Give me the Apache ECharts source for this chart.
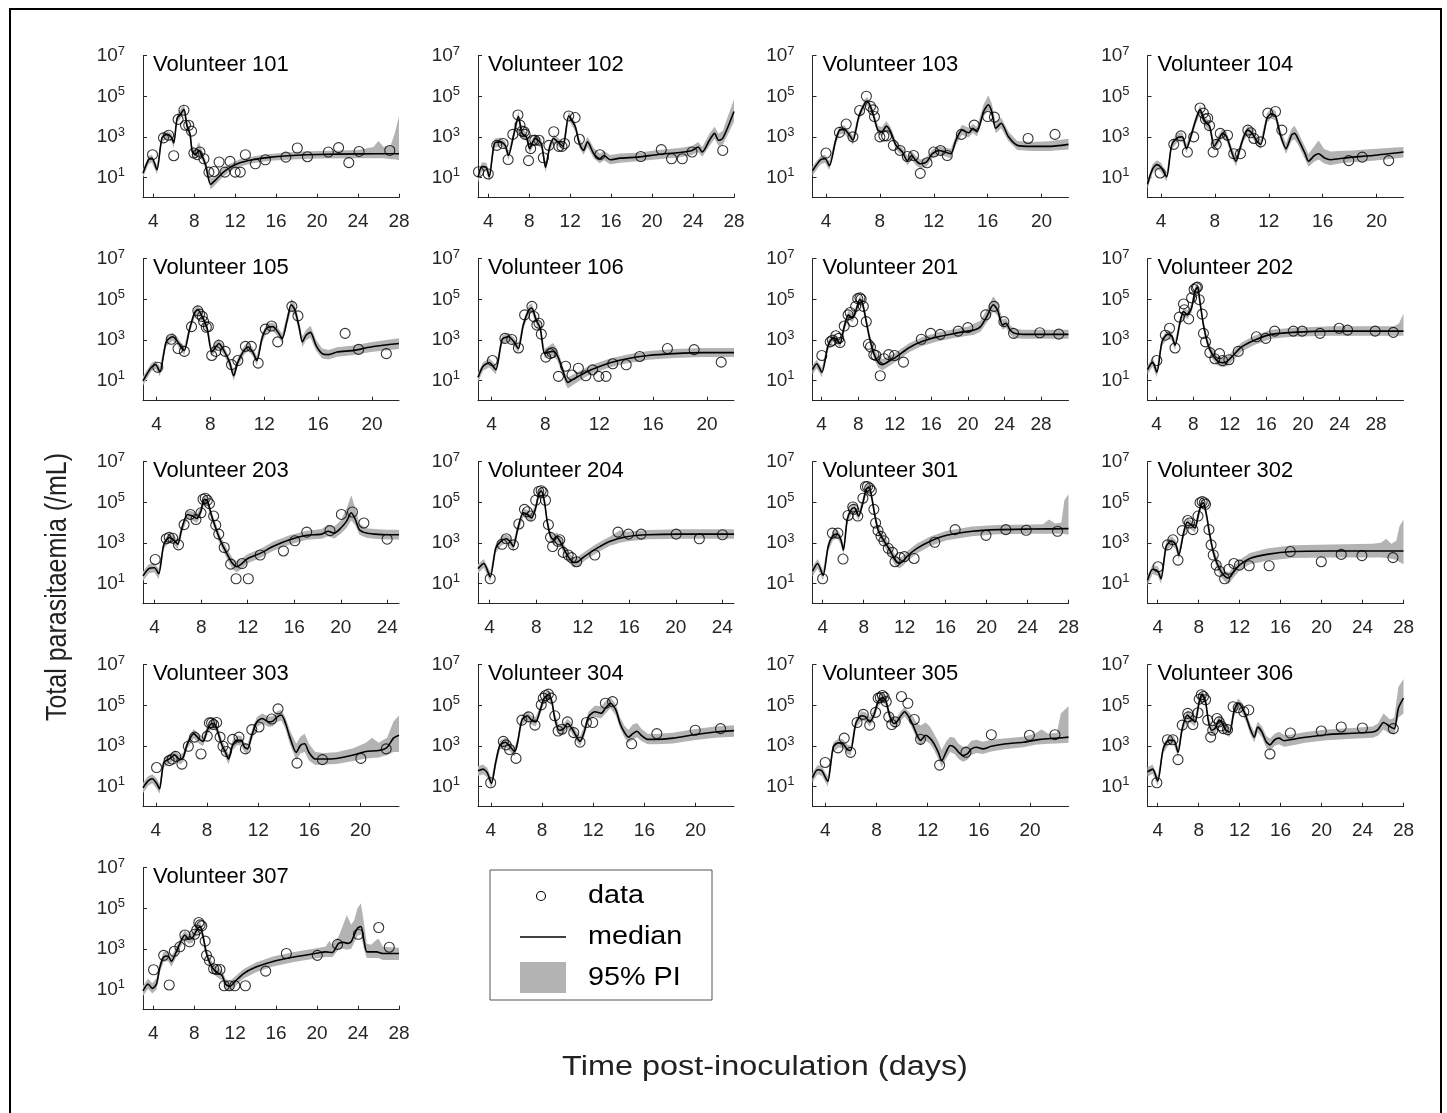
<!DOCTYPE html>
<html><head><meta charset="utf-8">
<script src="https://cdn.jsdelivr.net/npm/echarts@6/dist/echarts.min.js"></script>
<style>html,body{margin:0;padding:0;background:#fff}#chart{width:1447px;height:1113px}</style>
</head><body><div id="chart"></div>
<script>
// All y values are log10(total parasitaemia per mL); x values are days post-inoculation.
const volunteers = ['101','102','103','104','105','106','201','202','203','204','301','302','303','304','305','306','307'];
const xMaxDays   = [28,28,22,22,22,22,31,31,25,25,28,28,23,23,23,28,28];
const xTicks28 = [4,8,12,16,20,24,28];
const xTicks20 = [4,8,12,16,20];
const xTicks24 = [4,8,12,16,20,24];
const yTickExponents = [1,3,5,7];

// ---- Volunteer 101
const data101 = [[3.93,2.12],[5.0,2.95],[5.5,3.08],[6.0,2.07],[6.43,3.86],[7.0,4.31],[7.15,3.57],[7.47,3.57],[7.74,3.28],[7.97,2.2],[8.3,2.12],[8.56,2.25],[8.95,1.92],[9.44,1.26],[9.93,1.29],[10.43,1.76],[11.0,1.26],[11.5,1.79],[12.0,1.26],[12.5,1.26],[13.0,2.12],[13.97,1.67],[14.95,1.87],[16.95,2.0],[18.07,2.45],[19.06,2.02],[21.1,2.25],[22.1,2.47],[23.1,1.73],[24.1,2.28],[27.1,2.33]];
const median101 = [[3,1.21],[3.54,1.87],[3.87,1.96],[4.36,1.38],[4.85,2.95],[5.35,3.12],[5.77,2.98],[6.0,2.7],[6.33,3.91],[6.66,4.11],[7.0,4.36],[7.3,3.53],[7.6,3.12],[7.8,2.29],[8.13,2.12],[8.46,2.32],[8.79,2.04],[9.11,1.62],[9.6,0.66],[10.1,0.88],[10.75,1.21],[11.4,1.46],[12.4,1.71],[13.7,1.87],[15.35,1.99],[18,2.09],[20,2.13],[24,2.16],[28,2.17]];
const band101 = [[3,1.0,1.4],[3.54,1.65,2.05],[3.87,1.75,2.12],[4.36,1.15,1.6],[4.85,2.75,3.15],[5.35,2.92,3.3],[5.77,2.78,3.18],[6.0,2.45,2.9],[6.33,3.7,4.1],[6.66,3.9,4.35],[7.0,4.12,4.62],[7.3,3.3,3.75],[7.6,2.9,3.35],[7.8,2.05,2.55],[8.13,1.9,2.4],[8.46,2.1,2.75],[8.79,1.82,2.3],[9.11,1.4,1.85],[9.6,0.4,0.95],[10.1,0.65,1.1],[10.75,1.0,1.42],[11.4,1.27,1.65],[12.4,1.53,1.88],[13.7,1.7,2.03],[15.35,1.82,2.15],[18,1.9,2.27],[20,1.93,2.3],[24,1.95,2.35],[25.5,1.95,2.5],[26,1.95,2.8],[26.5,1.95,2.5],[27.2,1.9,2.6],[27.6,1.9,3.2],[28,1.85,4.0]];

// ---- Volunteer 102
const data102 = [[3.05,1.28],[4.0,1.17],[4.83,2.58],[5.45,2.67],[5.94,1.88],[6.4,3.12],[6.9,4.08],[7.1,3.58],[7.3,3.28],[7.5,3.25],[7.6,3.12],[7.93,1.83],[8.14,2.42],[8.34,2.83],[8.55,2.83],[8.96,2.83],[9.38,1.97],[9.92,2.58],[10.4,3.25],[10.9,2.53],[11.2,2.53],[11.45,2.67],[11.86,4.03],[12.48,3.95],[12.9,2.88],[14.9,2.12],[18.9,2.03],[20.9,2.37],[21.9,1.92],[22.95,1.92],[23.9,2.25],[26.9,2.33]];
const median102 = [[3,1.0],[3.38,1.53],[3.8,1.5],[4.1,1.03],[4.6,2.67],[5.2,2.75],[5.65,2.58],[5.98,2.08],[6.48,3.08],[6.94,4.0],[7.3,3.17],[7.72,3.0],[8.05,2.42],[8.55,2.92],[9.17,2.67],[9.6,1.5],[10.0,2.5],[10.4,2.92],[10.8,2.75],[11.3,2.53],[11.86,4.03],[12.5,3.5],[12.9,2.67],[13.3,2.33],[13.7,2.75],[14.3,2.17],[14.9,1.92],[15.3,2.08],[15.9,1.87],[16.9,1.95],[18.6,2.0],[20.6,2.13],[22.7,2.23],[23.9,2.33],[24.5,2.5],[24.9,2.25],[25.6,2.83],[26.1,3.17],[26.5,2.83],[26.9,2.92],[28,4.25]];
const band102 = [[3,0.75,1.25],[3.38,1.3,1.75],[3.8,1.3,1.72],[4.1,0.8,1.3],[4.6,2.45,2.9],[5.2,2.55,2.97],[5.65,2.38,2.8],[5.98,1.85,2.32],[6.48,2.88,3.3],[6.94,3.78,4.25],[7.3,2.95,3.4],[7.72,2.8,3.22],[8.05,2.2,2.65],[8.55,2.7,3.15],[9.17,2.45,2.9],[9.6,1.25,1.75],[10.0,2.3,2.7],[10.4,2.72,3.12],[10.8,2.55,2.95],[11.3,2.33,2.75],[11.86,3.82,4.25],[12.5,3.28,3.72],[12.9,2.45,2.9],[13.3,2.12,2.6],[13.7,2.5,3.0],[14.3,1.95,2.45],[14.9,1.7,2.18],[15.3,1.85,2.3],[15.9,1.65,2.1],[16.9,1.72,2.18],[18.6,1.8,2.22],[20.6,1.9,2.35],[22.7,2.0,2.45],[23.9,2.1,2.55],[24.5,2.25,2.75],[24.9,2.02,2.5],[25.6,2.55,3.15],[26.1,2.9,3.5],[26.5,2.55,3.15],[26.9,2.6,3.3],[28,3.75,4.85]];

// ---- Volunteer 103
const data103 = [[4.0,2.2],[5.0,3.22],[5.5,3.63],[6.0,3.0],[6.5,4.3],[7.0,5.0],[7.3,4.5],[7.5,4.33],[7.6,4.0],[8.0,3.0],[8.3,3.05],[8.5,3.05],[9.0,2.58],[9.5,2.33],[10.04,2.03],[10.5,2.08],[11.0,1.2],[11.5,1.72],[12.0,2.25],[12.5,2.33],[13.0,2.08],[14.05,3.12],[15.0,3.58],[16.0,4.0],[16.5,3.97],[19.0,2.92],[21.0,3.12]];
const median103 = [[3,1.33],[3.6,1.87],[3.94,1.92],[4.25,1.58],[4.72,2.83],[5.0,3.33],[5.35,3.37],[5.75,3.08],[6.0,2.83],[6.44,4.0],[6.9,4.67],[7.07,4.75],[7.44,4.25],[7.85,3.33],[8.16,3.25],[8.48,3.53],[8.8,3.25],[9.2,2.58],[9.67,2.25],[10.04,1.83],[10.36,2.08],[10.67,1.83],[11.0,1.67],[11.45,1.75],[11.9,2.17],[12.4,2.33],[12.85,2.25],[13.27,2.17],[13.64,2.83],[14.1,3.33],[14.6,3.2],[14.9,3.42],[15.2,3.25],[15.7,4.25],[16.05,4.58],[16.3,4.25],[16.6,3.42],[17.0,3.67],[17.55,3.0],[18.2,2.58],[19.3,2.53],[20.5,2.53],[22,2.63]];
const band103 = [[3,1.1,1.55],[3.6,1.65,2.05],[3.94,1.72,2.12],[4.25,1.35,1.8],[4.72,2.6,3.05],[5.0,3.12,3.52],[5.35,3.17,3.57],[5.75,2.88,3.28],[6.0,2.6,3.05],[6.44,3.8,4.2],[6.9,4.45,4.88],[7.07,4.53,4.97],[7.44,4.03,4.47],[7.85,3.12,3.55],[8.16,3.05,3.48],[8.48,3.3,3.78],[8.8,3.03,3.48],[9.2,2.37,2.8],[9.67,2.03,2.47],[10.04,1.6,2.05],[10.36,1.87,2.3],[10.67,1.6,2.05],[11.0,1.45,1.88],[11.45,1.53,1.97],[11.9,1.95,2.38],[12.4,2.12,2.55],[12.85,2.03,2.47],[13.27,1.95,2.4],[13.64,2.6,3.05],[14.1,3.1,3.6],[14.6,2.97,3.45],[14.9,3.2,3.65],[15.2,3.02,3.5],[15.7,4.0,4.6],[16.05,4.3,5.05],[16.3,3.98,4.65],[16.6,3.18,3.72],[17.0,3.42,3.95],[17.55,2.78,3.25],[18.2,2.35,2.8],[19.3,2.3,2.75],[20.5,2.3,2.78],[22,2.38,2.9]];

// ---- Volunteer 104
const data104 = [[3.94,1.22],[4.95,2.63],[5.48,3.05],[5.96,2.25],[6.43,3.0],[6.9,4.42],[7.15,4.17],[7.3,3.88],[7.47,3.92],[7.6,3.55],[7.87,2.25],[8.1,2.63],[8.4,3.17],[8.94,3.08],[9.4,2.17],[9.9,2.17],[10.45,3.33],[10.67,3.2],[10.9,2.92],[11.4,2.75],[11.93,4.17],[12.5,4.25],[12.97,3.33],[17.94,1.83],[18.94,2.0],[20.9,1.83]];
const median104 = [[3,0.67],[3.38,1.42],[3.69,1.63],[4.0,1.5],[4.42,1.03],[4.79,2.58],[5.26,2.97],[5.58,3.0],[5.89,2.42],[6.21,3.0],[6.58,3.83],[6.9,4.33],[7.21,3.83],[7.62,3.5],[7.94,2.53],[8.25,2.83],[8.57,3.17],[8.88,3.0],[9.29,2.17],[9.57,1.8],[9.82,2.33],[10.14,3.0],[10.45,3.33],[10.77,3.17],[11.08,2.83],[11.4,2.63],[11.87,3.92],[12.18,4.13],[12.5,4.03],[12.87,3.08],[13.28,2.42],[13.69,3.08],[13.91,3.17],[14.23,2.83],[14.7,2.17],[14.95,1.8],[15.39,2.08],[15.7,2.17],[16.11,1.97],[16.58,1.87],[17.21,1.92],[18.16,2.0],[19.73,2.08],[22,2.25]];
const band104 = [[3,0.45,0.9],[3.38,1.2,1.65],[3.69,1.42,1.85],[4.0,1.28,1.72],[4.42,0.8,1.25],[4.79,2.37,2.8],[5.26,2.77,3.2],[5.58,2.8,3.22],[5.89,2.2,2.65],[6.21,2.8,3.22],[6.58,3.62,4.05],[6.9,4.1,4.57],[7.21,3.6,4.05],[7.62,3.28,3.72],[7.94,2.3,2.78],[8.25,2.62,3.05],[8.57,2.95,3.4],[8.88,2.78,3.22],[9.29,1.95,2.42],[9.57,1.55,2.05],[9.82,2.1,2.55],[10.14,2.78,3.22],[10.45,3.12,3.55],[10.77,2.95,3.4],[11.08,2.6,3.05],[11.4,2.4,2.87],[11.87,3.7,4.15],[12.18,3.9,4.42],[12.5,3.8,4.28],[12.87,2.85,3.32],[13.28,2.15,2.68],[13.69,2.8,3.4],[13.91,2.88,3.55],[14.23,2.55,3.15],[14.7,1.88,2.5],[14.95,1.52,2.15],[15.39,1.78,2.55],[15.7,1.88,2.82],[16.11,1.68,2.4],[16.58,1.6,2.28],[17.21,1.68,2.3],[18.16,1.75,2.33],[19.73,1.82,2.4],[22,1.98,2.5]];

// ---- Volunteer 105
const data105 = [[4.1,1.65],[5.1,3.03],[5.6,2.57],[6.07,2.43],[6.6,3.65],[7.07,4.43],[7.2,4.27],[7.4,4.15],[7.5,3.9],[7.7,3.62],[7.85,3.65],[8.1,2.23],[8.4,2.43],[8.63,2.73],[9.1,2.43],[9.57,1.78],[10.04,1.98],[10.6,2.68],[11.04,2.68],[11.55,1.85],[12.08,3.53],[12.55,3.68],[13.0,2.9],[14.05,4.65],[14.5,4.18],[18.0,3.32],[19.0,2.53],[21.06,2.32]];
const median105 = [[3,0.98],[3.62,1.65],[3.94,1.77],[4.25,1.43],[4.72,2.9],[5.19,3.15],[5.5,2.98],[5.82,2.65],[6.07,2.48],[6.44,3.48],[6.82,4.32],[7.07,4.48],[7.44,4.07],[7.76,3.57],[8.1,2.4],[8.4,2.65],[8.63,2.82],[9.0,2.48],[9.42,1.9],[9.73,1.23],[10.04,1.9],[10.5,2.48],[10.8,2.65],[11.14,2.4],[11.45,1.98],[11.83,3.07],[12.17,3.57],[12.64,3.65],[13.0,3.4],[13.33,3.07],[13.7,3.98],[14.0,4.73],[14.27,4.48],[14.58,3.65],[14.83,2.9],[15.1,3.23],[15.43,3.37],[15.84,2.73],[16.3,2.32],[16.77,2.27],[17.4,2.4],[18.65,2.48],[19.9,2.65],[22,2.82]];
const band105 = [[3,0.75,1.2],[3.62,1.45,1.85],[3.94,1.57,1.97],[4.25,1.2,1.68],[4.72,2.68,3.1],[5.19,2.95,3.35],[5.5,2.78,3.18],[5.82,2.45,2.87],[6.07,2.27,2.7],[6.44,3.27,3.7],[6.82,4.1,4.53],[7.07,4.27,4.7],[7.44,3.85,4.3],[7.76,3.35,3.8],[8.1,2.18,2.62],[8.4,2.45,2.87],[8.63,2.6,3.05],[9.0,2.27,2.7],[9.42,1.68,2.12],[9.73,0.98,1.48],[10.04,1.68,2.12],[10.5,2.27,2.7],[10.8,2.45,2.87],[11.14,2.2,2.62],[11.45,1.75,2.2],[11.83,2.85,3.3],[12.17,3.35,3.78],[12.64,3.43,3.87],[13.0,3.18,3.62],[13.33,2.85,3.3],[13.7,3.75,4.25],[14.0,4.45,5.02],[14.27,4.2,4.78],[14.58,3.4,3.92],[14.83,2.65,3.17],[15.1,2.98,3.5],[15.43,3.1,3.7],[15.84,2.48,3.0],[16.3,2.08,2.57],[16.77,2.03,2.5],[17.4,2.17,2.63],[18.65,2.25,2.72],[19.9,2.4,2.88],[22,2.55,3.08]];

// ---- Volunteer 106
const data106 = [[4.07,1.98],[5.0,3.07],[5.5,3.02],[6.0,2.6],[6.46,4.23],[7.0,4.65],[7.15,4.15],[7.37,3.73],[7.53,3.82],[7.7,3.28],[8.03,2.15],[8.35,2.32],[8.5,2.37],[8.97,1.2],[9.5,1.7],[9.98,1.27],[10.45,1.6],[11.0,1.23],[11.5,1.52],[11.96,1.2],[12.5,1.2],[13.0,1.82],[14.0,1.77],[15.0,2.18],[17.06,2.57],[19.04,2.52],[21.05,1.9]];
const median106 = [[3,1.15],[3.38,1.7],[3.85,1.87],[4.32,1.53],[4.79,3.02],[5.26,3.15],[5.67,2.9],[5.99,2.57],[6.36,3.73],[6.77,4.48],[6.99,4.57],[7.31,3.98],[7.62,3.57],[7.94,2.32],[8.25,2.4],[8.57,2.43],[8.88,2.23],[9.19,1.7],[9.51,1.07],[9.67,0.9],[9.99,1.03],[10.45,1.2],[11.08,1.43],[11.87,1.65],[12.81,1.87],[14.07,2.07],[15.64,2.23],[17.53,2.32],[19.73,2.37],[22,2.37]];
const band106 = [[3,0.92,1.38],[3.38,1.48,1.9],[3.85,1.65,2.08],[4.32,1.3,1.77],[4.79,2.8,3.22],[5.26,2.95,3.35],[5.67,2.68,3.1],[5.99,2.35,2.8],[6.36,3.52,3.95],[6.77,4.27,4.7],[6.99,4.35,4.8],[7.31,3.77,4.2],[7.62,3.35,3.8],[7.94,2.1,2.55],[8.25,2.18,2.7],[8.57,2.2,2.85],[8.88,2.0,2.55],[9.19,1.45,1.95],[9.51,0.8,1.3],[9.67,0.6,1.15],[9.99,0.75,1.27],[10.45,0.95,1.43],[11.08,1.2,1.65],[11.87,1.43,1.87],[12.81,1.65,2.08],[14.07,1.85,2.28],[15.64,2.02,2.45],[17.53,2.1,2.55],[19.73,2.15,2.6],[22,2.15,2.6]];

// ---- Volunteer 201
const data201 = [[4.02,2.23],[4.94,2.9],[5.18,2.98],[5.55,3.2],[5.87,3.07],[6.01,2.87],[6.47,3.68],[6.89,4.23],[7.12,4.35],[7.4,3.9],[7.72,4.65],[7.95,5.03],[8.19,5.07],[8.32,5.0],[8.56,4.65],[8.88,3.9],[9.11,2.78],[9.34,2.65],[9.71,2.27],[9.94,2.23],[10.41,1.23],[10.82,2.07],[11.33,2.27],[11.98,2.23],[12.95,1.9],[14.9,3.03],[15.92,3.32],[16.98,3.27],[18.93,3.43],[19.99,3.6],[21.94,4.23],[22.86,4.65],[23.93,3.9],[24.99,3.32],[27.86,3.35],[29.94,3.28]];
const median201 = [[3,1.53],[3.46,1.82],[4.02,1.4],[4.71,2.73],[5.27,3.1],[5.64,3.02],[6.01,2.82],[6.47,3.65],[6.94,4.23],[7.35,4.07],[7.72,4.4],[8.19,5.0],[8.51,4.73],[8.88,3.9],[9.25,3.07],[9.71,2.32],[10.18,1.9],[10.64,1.77],[11.19,1.9],[12.12,2.15],[13.51,2.6],[14.9,2.9],[16.75,3.15],[18.6,3.32],[19.99,3.43],[20.69,3.48],[21.38,3.65],[22.07,4.15],[22.77,4.73],[23.23,4.48],[23.79,3.73],[24.16,3.82],[24.62,3.48],[25.08,3.32],[26.0,3.27],[31,3.27]];
const band201 = [[3,1.3,1.75],[3.46,1.6,2.02],[4.02,1.15,1.62],[4.71,2.5,2.95],[5.27,2.9,3.3],[5.64,2.82,3.22],[6.01,2.6,3.05],[6.47,3.45,3.88],[6.94,4.02,4.45],[7.35,3.85,4.3],[7.72,4.18,4.62],[8.19,4.78,5.2],[8.51,4.5,4.95],[8.88,3.67,4.15],[9.25,2.83,3.32],[9.71,2.07,2.6],[10.18,1.62,2.2],[10.64,1.5,2.05],[11.19,1.65,2.15],[12.12,1.92,2.38],[13.51,2.38,2.82],[14.9,2.68,3.12],[16.75,2.93,3.37],[18.6,3.1,3.53],[19.99,3.2,3.65],[20.69,3.25,3.8],[21.38,3.4,3.95],[22.07,3.85,4.5],[22.77,4.4,5.15],[23.23,4.2,4.85],[23.79,3.5,4.0],[24.16,3.6,4.05],[24.62,3.25,3.72],[25.08,3.08,3.55],[26.0,3.05,3.5],[31,3.05,3.5]];

// ---- Volunteer 202
const data202 = [[4.02,1.98],[4.95,3.23],[5.41,3.57],[6.01,2.6],[6.48,4.12],[6.94,4.77],[7.03,4.48],[7.5,4.03],[7.82,5.07],[8.1,5.48],[8.33,5.57],[8.47,5.6],[8.66,4.98],[8.98,4.27],[9.12,3.32],[9.35,2.9],[9.82,2.37],[10.37,2.07],[10.88,2.32],[11.21,1.98],[11.9,2.02],[12.92,2.43],[14.91,3.15],[15.93,3.07],[16.91,3.43],[18.95,3.43],[19.92,3.43],[21.87,3.32],[23.96,3.57],[24.88,3.48],[27.9,3.43],[29.89,3.37]];
const median202 = [[3,1.53],[3.56,1.9],[4.02,1.4],[4.58,2.9],[5.18,3.27],[5.64,3.2],[6.01,2.73],[6.57,3.9],[6.94,4.4],[7.36,4.23],[7.82,4.57],[8.19,5.4],[8.47,5.6],[8.75,4.82],[9.12,3.73],[9.58,2.82],[10.05,2.32],[10.6,1.98],[11.21,1.87],[11.67,1.93],[12.36,2.23],[13.29,2.65],[14.68,2.98],[16.54,3.27],[18.86,3.37],[23.03,3.43],[29.98,3.43],[31,3.43]];
const band202 = [[3,1.3,1.75],[3.56,1.68,2.1],[4.02,1.15,1.62],[4.58,2.68,3.12],[5.18,3.05,3.47],[5.64,2.98,3.4],[6.01,2.5,2.95],[6.57,3.68,4.1],[6.94,4.18,4.6],[7.36,4.02,4.45],[7.82,4.35,4.78],[8.19,5.18,5.6],[8.47,5.38,5.82],[8.75,4.6,5.05],[9.12,3.5,3.97],[9.58,2.58,3.05],[10.05,2.08,2.55],[10.6,1.75,2.22],[11.21,1.65,2.1],[11.67,1.7,2.15],[12.36,2.0,2.45],[13.29,2.42,2.87],[14.68,2.75,3.2],[16.54,3.05,3.5],[18.86,3.15,3.6],[23.03,3.2,3.67],[29.98,3.2,3.67],[30.5,3.2,3.8],[31,3.2,4.3]];

// ---- Volunteer 203
const data203 = [[4.05,2.18],[5.0,3.2],[5.25,3.27],[5.55,3.23],[6.05,2.9],[6.53,3.9],[7.07,4.4],[7.55,4.15],[7.98,4.48],[8.16,5.15],[8.35,5.2],[8.53,5.1],[8.71,4.93],[9.07,4.32],[9.25,3.87],[9.51,3.43],[9.98,2.77],[10.53,1.95],[11.0,1.23],[11.51,1.98],[12.05,1.23],[13.07,2.4],[15.07,2.6],[16.05,3.1],[17.07,3.53],[19.07,3.6],[20.05,4.4],[21.0,4.52],[21.98,3.98],[23.98,3.18]];
const median203 = [[3,1.37],[3.5,1.73],[3.98,1.77],[4.35,1.48],[4.78,2.9],[5.25,3.27],[5.62,3.15],[5.98,2.93],[6.35,3.73],[6.82,4.4],[7.25,4.32],[7.62,4.2],[7.98,4.57],[8.27,5.15],[8.53,5.07],[8.9,4.32],[9.25,3.73],[9.62,3.15],[9.98,2.73],[10.35,2.32],[10.7,1.98],[11.07,1.82],[11.44,1.95],[12.0,2.23],[13.07,2.48],[14.16,2.82],[15.6,3.15],[17.07,3.37],[18.35,3.43],[18.9,3.57],[19.44,3.48],[20.0,3.73],[20.5,4.07],[20.9,4.48],[21.25,4.15],[21.6,3.65],[22.2,3.48],[22.9,3.43],[24.0,3.4],[25,3.4]];
const band203 = [[3,1.12,1.6],[3.5,1.5,1.95],[3.98,1.55,2.0],[4.35,1.22,1.72],[4.78,2.68,3.12],[5.25,3.05,3.48],[5.62,2.93,3.37],[5.98,2.7,3.15],[6.35,3.5,3.95],[6.82,4.18,4.62],[7.25,4.1,4.55],[7.62,3.98,4.42],[7.98,4.35,4.8],[8.27,4.92,5.37],[8.53,4.85,5.3],[8.9,4.1,4.55],[9.25,3.5,3.97],[9.62,2.9,3.4],[9.98,2.48,2.98],[10.35,2.05,2.58],[10.7,1.7,2.25],[11.07,1.55,2.08],[11.44,1.7,2.2],[12.0,2.0,2.45],[13.07,2.25,2.7],[14.16,2.6,3.05],[15.6,2.92,3.38],[17.07,3.15,3.6],[18.35,3.2,3.68],[18.9,3.33,3.9],[19.44,3.22,3.8],[20.0,3.45,4.1],[20.5,3.75,4.7],[20.9,4.1,5.35],[21.25,3.85,4.7],[21.6,3.4,3.95],[22.2,3.25,3.72],[22.9,3.2,3.68],[24.0,3.17,3.65],[25,3.17,3.65]];

// ---- Volunteer 204
const data204 = [[4.05,1.23],[5.07,2.93],[5.43,3.2],[6.04,2.9],[6.51,3.93],[6.99,4.65],[7.24,4.53],[7.53,4.32],[7.96,5.1],[8.22,5.53],[8.43,5.57],[8.58,5.48],[8.8,5.1],[9.05,3.9],[9.23,3.27],[9.41,2.82],[9.88,3.07],[10.03,3.15],[10.32,2.53],[10.75,2.4],[11.04,2.27],[11.48,2.07],[13.04,2.4],[15.03,3.53],[15.93,3.43],[17.02,3.43],[20.03,3.43],[22.02,3.2],[24.01,3.4]];
const median204 = [[3,1.73],[3.5,1.98],[4.05,1.32],[4.52,2.73],[4.96,3.07],[5.43,3.2],[5.8,3.03],[6.04,2.82],[6.4,3.65],[6.88,4.48],[7.24,4.4],[7.6,4.23],[7.96,4.73],[8.22,5.4],[8.43,5.57],[8.7,5.07],[8.94,4.07],[9.23,3.32],[9.52,3.15],[9.77,3.27],[10.14,2.98],[10.5,2.57],[10.86,2.23],[11.22,2.03],[11.59,2.07],[12.13,2.32],[13.2,2.73],[14.3,3.07],[15.75,3.3],[17.57,3.4],[20.47,3.43],[25,3.43]];
const band204 = [[3,1.5,1.95],[3.5,1.77,2.2],[4.05,1.08,1.57],[4.52,2.5,2.95],[4.96,2.85,3.28],[5.43,3.0,3.42],[5.8,2.82,3.25],[6.04,2.6,3.05],[6.4,3.43,3.87],[6.88,4.27,4.7],[7.24,4.18,4.62],[7.6,4.02,4.45],[7.96,4.5,4.95],[8.22,5.18,5.62],[8.43,5.35,5.8],[8.7,4.85,5.3],[8.94,3.83,4.3],[9.23,3.08,3.57],[9.52,2.92,3.4],[9.77,3.03,3.52],[10.14,2.75,3.22],[10.5,2.33,2.82],[10.86,1.98,2.48],[11.22,1.78,2.28],[11.59,1.83,2.32],[12.13,2.1,2.55],[13.2,2.5,2.95],[14.3,2.85,3.3],[15.2,3.0,3.62],[15.75,3.07,3.55],[17.57,3.18,3.63],[20.47,3.2,3.67],[25,3.2,3.67]];

// ---- Volunteer 301
const data301 = [[3.99,1.23],[4.94,3.48],[5.48,3.48],[5.98,2.2],[6.47,4.35],[6.93,4.77],[7.01,4.65],[7.42,4.32],[7.92,5.2],[8.17,5.77],[8.37,5.78],[8.58,5.7],[8.74,5.57],[8.99,4.65],[9.16,3.98],[9.4,3.6],[9.69,3.32],[9.98,3.1],[10.4,2.73],[10.81,2.53],[11.06,2.07],[11.55,2.27],[11.97,2.32],[12.92,2.23],[14.94,3.03],[16.93,3.65],[19.94,3.37],[21.88,3.65],[23.87,3.62],[26.93,3.57]];
const median301 = [[3,1.6],[3.5,1.98],[4.03,1.4],[4.53,2.82],[5.02,3.37],[5.44,3.43],[5.77,3.15],[6.02,2.65],[6.39,4.15],[6.8,4.65],[7.09,4.73],[7.5,4.32],[7.92,4.98],[8.25,5.65],[8.54,5.73],[8.79,5.23],[9.07,4.4],[9.4,3.65],[9.82,3.23],[10.23,2.9],[10.64,2.57],[11.06,2.15],[11.47,1.98],[11.88,2.12],[12.38,2.4],[13.2,2.73],[14.45,3.07],[16.1,3.37],[18.58,3.57],[21.06,3.65],[24.36,3.68],[28,3.7]];
const band301 = [[3,1.35,1.85],[3.5,1.75,2.2],[4.03,1.15,1.65],[4.53,2.58,3.05],[5.02,3.15,3.58],[5.44,3.2,3.65],[5.77,2.92,3.38],[6.02,2.42,2.9],[6.39,3.92,4.38],[6.8,4.43,4.87],[7.09,4.5,4.95],[7.5,4.1,4.55],[7.92,4.75,5.2],[8.25,5.42,5.87],[8.54,5.5,5.95],[8.79,5.0,5.47],[9.07,4.15,4.65],[9.4,3.4,3.9],[9.82,2.98,3.48],[10.23,2.65,3.15],[10.64,2.3,2.83],[11.06,1.88,2.42],[11.47,1.73,2.25],[11.88,1.88,2.37],[12.38,2.15,2.65],[13.2,2.48,2.97],[14.45,2.83,3.3],[16.1,3.13,3.6],[18.58,3.33,3.8],[21.06,3.42,3.88],[24.36,3.45,3.9],[25.5,3.45,3.92],[26.1,3.45,4.15],[26.7,3.45,3.95],[27.3,3.45,4.0],[27.6,3.43,5.1],[28,3.4,5.4]];

// ---- Volunteer 302
const data302 = [[4.03,1.82],[4.95,2.9],[5.48,3.15],[5.98,2.15],[6.39,3.6],[6.93,4.1],[7.1,3.98],[7.43,3.65],[7.93,4.32],[8.13,4.98],[8.34,5.03],[8.55,4.98],[8.67,4.9],[9.0,3.65],[9.21,2.9],[9.42,2.4],[9.71,1.9],[10.04,1.6],[10.53,1.23],[10.95,1.7],[11.44,1.98],[11.98,1.9],[12.93,1.87],[14.88,1.87],[16.95,2.57],[19.97,2.07],[21.92,2.43],[23.94,2.37],[26.97,2.27]];
const median302 = [[3,1.15],[3.5,1.7],[4.0,1.6],[4.32,1.23],[4.82,2.82],[5.36,3.1],[5.77,2.9],[6.06,2.4],[6.52,3.48],[6.89,4.03],[7.22,3.9],[7.64,3.73],[7.97,4.4],[8.26,4.9],[8.46,4.98],[8.75,4.4],[9.08,3.4],[9.41,2.57],[9.79,1.98],[10.2,1.57],[10.62,1.32],[10.95,1.27],[11.36,1.53],[11.98,1.9],[13.0,2.23],[14.67,2.43],[17.15,2.57],[20.88,2.6],[25.0,2.6],[28,2.6]];
const band302 = [[3,0.9,1.4],[3.5,1.47,1.92],[4.0,1.37,1.83],[4.32,0.98,1.48],[4.82,2.6,3.05],[5.36,2.88,3.32],[5.77,2.68,3.12],[6.06,2.15,2.65],[6.52,3.25,3.7],[6.89,3.8,4.25],[7.22,3.68,4.12],[7.64,3.5,3.95],[7.97,4.17,4.62],[8.26,4.67,5.12],[8.46,4.75,5.2],[8.75,4.17,4.63],[9.08,3.15,3.65],[9.41,2.32,2.82],[9.79,1.72,2.25],[10.2,1.3,1.85],[10.62,1.05,1.6],[10.95,0.98,1.55],[11.36,1.25,1.8],[11.98,1.62,2.15],[13.0,1.95,2.5],[14.67,2.12,2.72],[17.15,2.25,2.88],[20.88,2.28,2.92],[25.0,2.28,2.95],[25.8,2.28,3.0],[26.3,2.25,3.2],[26.8,2.22,2.95],[27.3,2.15,3.1],[27.6,2.05,3.8],[28,1.95,4.15]];

// ---- Volunteer 303
const data303 = [[4.06,1.93],[5.05,2.27],[5.28,2.35],[5.55,2.48],[6.04,2.1],[6.54,2.98],[7.03,3.43],[7.53,2.6],[8.02,3.48],[8.19,4.13],[8.36,4.13],[8.52,4.05],[8.75,4.15],[9.02,3.43],[9.25,2.98],[9.51,2.72],[10.0,3.32],[10.5,3.43],[11.0,2.85],[11.5,3.8],[12.06,3.93],[13.05,4.32],[13.55,4.82],[15.03,2.15],[17.02,2.32],[20.02,2.38],[22.0,2.85]];
const median303 = [[3,0.93],[3.4,1.27],[3.73,1.38],[4.06,1.15],[4.29,0.88],[4.62,2.18],[5.05,2.35],[5.48,2.55],[5.88,2.32],[6.14,2.43],[6.47,3.1],[6.97,3.6],[7.36,3.35],[7.69,3.22],[8.02,3.77],[8.36,4.1],[8.62,4.05],[8.85,3.68],[9.18,3.02],[9.45,2.68],[9.68,2.35],[10.0,3.02],[10.34,3.27],[10.67,3.27],[10.93,2.93],[11.17,2.85],[11.5,3.52],[11.9,4.18],[12.32,4.35],[12.82,4.18],[13.15,4.22],[13.48,4.43],[13.81,4.52],[14.14,4.1],[14.47,3.43],[14.97,2.68],[15.3,3.02],[15.63,3.1],[15.96,2.68],[16.45,2.35],[17.12,2.35],[18.1,2.38],[19.43,2.55],[20.42,2.72],[21.41,2.77],[22.07,2.93],[22.57,3.38],[23,3.52]];
const band303 = [[3,0.68,1.18],[3.4,1.03,1.5],[3.73,1.15,1.6],[4.06,0.9,1.4],[4.29,0.62,1.12],[4.62,1.95,2.42],[5.05,2.12,2.57],[5.48,2.32,2.77],[5.88,2.08,2.55],[6.14,2.2,2.67],[6.47,2.87,3.33],[6.97,3.37,3.83],[7.36,3.12,3.58],[7.69,2.98,3.45],[8.02,3.53,4.0],[8.36,3.87,4.33],[8.62,3.82,4.28],[8.85,3.45,3.92],[9.18,2.78,3.27],[9.45,2.43,2.93],[9.68,2.08,2.6],[10.0,2.78,3.27],[10.34,3.03,3.5],[10.67,3.03,3.5],[10.93,2.68,3.17],[11.17,2.6,3.1],[11.5,3.28,3.77],[11.9,3.93,4.42],[12.32,4.1,4.6],[12.82,3.93,4.43],[13.15,3.97,4.47],[13.48,4.18,4.7],[13.81,4.25,4.78],[14.14,3.82,4.38],[14.47,3.1,3.78],[14.97,2.3,3.1],[15.3,2.62,3.45],[15.63,2.7,3.6],[15.96,2.28,3.1],[16.45,2.05,2.7],[17.12,2.08,2.65],[18.1,2.1,2.68],[19.43,2.25,2.88],[20.42,2.38,3.15],[20.9,2.4,3.4],[21.41,2.42,3.15],[22.07,2.55,3.4],[22.57,2.7,4.2],[23,2.7,4.5]];

// ---- Volunteer 304
const data304 = [[3.99,1.18],[4.98,3.22],[5.2,3.05],[5.47,2.82],[5.97,2.38],[6.43,4.27],[6.95,4.43],[7.45,4.02],[7.94,5.02],[8.1,5.35],[8.27,5.48],[8.5,5.55],[8.73,5.35],[9.0,4.48],[9.26,3.73],[9.56,3.82],[9.99,4.18],[10.48,3.65],[10.97,3.18],[11.47,4.15],[11.96,4.15],[12.95,5.1],[13.51,5.18],[15.0,3.1],[16.97,3.6],[19.97,3.77],[21.95,3.85]];
const median304 = [[3,1.77],[3.4,1.85],[3.72,1.68],[4.05,1.15],[4.38,2.18],[4.71,3.02],[5.14,3.18],[5.54,2.93],[5.87,2.72],[6.1,3.18],[6.43,4.27],[6.86,4.48],[7.18,4.27],[7.51,4.18],[7.84,4.72],[8.17,5.35],[8.5,5.52],[8.77,5.18],[9.0,4.35],[9.33,3.77],[9.66,3.82],[9.99,4.1],[10.31,3.88],[10.64,3.52],[10.97,3.22],[11.3,3.68],[11.63,4.43],[12.13,4.68],[12.62,4.6],[12.95,4.85],[13.35,5.1],[13.77,4.77],[14.1,4.1],[14.43,3.68],[14.76,3.43],[15.09,3.6],[15.42,3.72],[15.75,3.52],[16.25,3.32],[16.9,3.32],[18.22,3.38],[19.87,3.55],[21.52,3.68],[23,3.75]];
const band304 = [[3,1.52,2.0],[3.4,1.6,2.08],[3.72,1.45,1.92],[4.05,0.9,1.4],[4.38,1.93,2.42],[4.71,2.8,3.25],[5.14,2.95,3.4],[5.54,2.7,3.15],[5.87,2.48,2.95],[6.1,2.95,3.42],[6.43,4.05,4.5],[6.86,4.25,4.7],[7.18,4.05,4.5],[7.51,3.95,4.42],[7.84,4.5,4.95],[8.17,5.12,5.58],[8.5,5.3,5.75],[8.77,4.95,5.42],[9.0,4.12,4.6],[9.33,3.53,4.02],[9.66,3.58,4.05],[9.99,3.87,4.33],[10.31,3.65,4.12],[10.64,3.28,3.77],[10.97,2.98,3.47],[11.3,3.45,3.95],[11.63,4.2,4.68],[12.13,4.42,4.98],[12.62,4.35,4.95],[12.95,4.58,5.2],[13.35,4.85,5.38],[13.77,4.5,5.05],[14.1,3.85,4.4],[14.43,3.42,4.0],[14.76,3.15,3.78],[15.09,3.3,4.05],[15.42,3.42,4.12],[15.75,3.25,3.85],[16.25,3.08,3.6],[16.9,3.08,3.58],[18.22,3.12,3.65],[19.87,3.28,3.82],[21.52,3.4,3.95],[23,3.45,4.02]];

// ---- Volunteer 305
const data305 = [[3.99,2.18],[4.99,2.9],[5.48,3.38],[5.98,2.68],[6.48,4.15],[6.97,4.55],[7.47,4.02],[7.93,4.65],[8.13,5.35],[8.3,5.38],[8.46,5.48],[8.6,5.4],[8.76,5.18],[8.96,4.43],[9.19,4.05],[9.46,4.18],[9.95,5.43],[10.45,5.1],[10.95,4.3],[11.44,3.32],[12.93,2.05],[14.99,2.68],[16.97,3.55],[19.95,3.52],[21.94,3.55]];
const median305 = [[3,1.43],[3.4,1.82],[3.73,1.77],[4.06,1.38],[4.2,1.25],[4.62,2.93],[5.05,3.15],[5.38,3.1],[5.72,2.82],[5.98,2.77],[6.38,4.1],[6.81,4.48],[7.14,4.43],[7.47,4.18],[7.8,4.52],[8.13,5.18],[8.46,5.38],[8.73,5.22],[9.03,4.48],[9.36,4.1],[9.59,4.18],[9.85,4.43],[10.19,4.68],[10.52,4.43],[10.85,4.02],[11.18,3.52],[11.44,3.27],[11.84,3.52],[12.17,3.38],[12.5,3.1],[12.83,2.68],[13.1,2.27],[13.43,2.68],[13.76,3.02],[14.09,2.93],[14.42,2.68],[14.75,2.52],[15.09,2.6],[15.42,2.85],[15.8,2.93],[16.31,2.85],[16.97,2.98],[18.13,3.1],[19.46,3.18],[20.78,3.32],[22.1,3.38],[23,3.43]];
const band305 = [[3,1.2,1.68],[3.4,1.6,2.05],[3.73,1.53,2.0],[4.06,1.15,1.62],[4.2,1.0,1.5],[4.62,2.7,3.15],[5.05,2.92,3.37],[5.38,2.88,3.32],[5.72,2.6,3.05],[5.98,2.52,3.0],[6.38,3.87,4.33],[6.81,4.25,4.7],[7.14,4.2,4.65],[7.47,3.95,4.42],[7.8,4.3,4.75],[8.13,4.95,5.4],[8.46,5.15,5.6],[8.73,5.0,5.45],[9.03,4.25,4.72],[9.36,3.87,4.35],[9.59,3.95,4.42],[9.85,4.2,4.67],[10.19,4.45,4.92],[10.52,4.2,4.68],[10.85,3.78,4.45],[11.18,3.25,4.1],[11.44,3.0,4.0],[11.84,3.25,4.15],[12.17,3.1,3.95],[12.5,2.8,3.6],[12.83,2.35,3.2],[13.1,1.95,2.8],[13.43,2.35,3.2],[13.76,2.7,3.45],[14.09,2.6,3.4],[14.42,2.35,3.1],[14.75,2.22,2.95],[15.09,2.3,3.0],[15.42,2.55,3.25],[15.8,2.65,3.3],[16.31,2.6,3.2],[16.97,2.72,3.3],[18.13,2.85,3.38],[19.46,2.93,3.45],[20.4,3.05,3.6],[20.9,3.08,3.82],[21.4,3.1,3.6],[22.1,3.12,3.65],[22.4,3.13,4.6],[23,3.15,4.95]];

// ---- Volunteer 306
const data306 = [[3.91,1.18],[4.95,3.3],[5.48,3.3],[5.98,2.32],[6.39,4.02],[6.93,4.6],[7.0,4.43],[7.43,4.05],[7.93,4.63],[8.05,5.3],[8.26,5.52],[8.46,5.43],[8.67,5.27],[8.88,4.27],[9.17,3.43],[9.37,3.77],[9.79,4.35],[10.0,4.18],[10.2,3.98],[10.4,3.85],[10.82,3.8],[11.36,4.93],[11.86,4.88],[12.4,4.68],[12.89,4.77],[14.96,2.6],[16.95,3.63],[19.97,3.73],[21.92,3.93],[23.99,3.88],[27.0,3.85]];
const median306 = [[3,1.72],[3.5,1.85],[4.0,1.27],[4.53,2.85],[5.07,3.27],[5.57,3.27],[5.98,2.68],[6.39,3.85],[6.89,4.52],[7.22,4.35],[7.64,4.18],[8.05,5.18],[8.34,5.55],[8.67,5.18],[8.96,4.18],[9.29,3.77],[9.62,3.88],[10.0,4.27],[10.33,4.1],[10.66,3.77],[11.03,3.68],[11.44,4.68],[11.86,5.1],[12.27,4.85],[12.69,4.35],[13.02,3.85],[13.43,3.43],[13.76,3.93],[14.18,3.68],[14.59,3.2],[14.96,3.05],[15.42,3.3],[15.83,3.38],[16.33,3.25],[16.95,3.3],[18.4,3.42],[20.47,3.55],[22.95,3.62],[25.0,3.68],[25.5,3.8],[26.05,4.15],[26.68,3.95],[27.1,3.85],[27.5,4.85],[28,5.35]];
const band306 = [[3,1.48,1.95],[3.5,1.62,2.08],[4.0,1.03,1.5],[4.53,2.62,3.08],[5.07,3.05,3.5],[5.57,3.05,3.5],[5.98,2.45,2.92],[6.39,3.62,4.08],[6.89,4.3,4.75],[7.22,4.12,4.58],[7.64,3.95,4.42],[8.05,4.95,5.42],[8.34,5.32,5.78],[8.67,4.95,5.42],[8.96,3.95,4.42],[9.29,3.53,4.02],[9.62,3.65,4.12],[10.0,4.03,4.5],[10.33,3.87,4.33],[10.66,3.53,4.0],[11.03,3.43,3.92],[11.44,4.43,4.92],[11.86,4.85,5.35],[12.27,4.6,5.1],[12.69,4.1,4.6],[13.02,3.6,4.1],[13.43,3.18,3.68],[13.76,3.68,4.2],[14.18,3.42,3.95],[14.59,2.9,3.5],[14.96,2.75,3.35],[15.42,3.0,3.6],[15.83,3.08,3.7],[16.33,2.95,3.55],[16.95,3.0,3.55],[18.4,3.15,3.68],[20.47,3.28,3.8],[22.95,3.35,3.88],[25.0,3.4,3.95],[25.5,3.5,4.1],[26.05,3.8,4.6],[26.68,3.6,4.3],[27.1,3.55,4.4],[27.5,4.4,5.9],[28,4.6,6.3]];

// ---- Volunteer 307
const data307 = [[4.03,1.97],[5.02,2.68],[5.56,1.22],[6.06,2.88],[6.6,3.1],[7.09,3.68],[7.55,3.35],[8.04,3.72],[8.25,3.93],[8.45,4.3],[8.58,4.18],[8.74,4.13],[9.07,3.38],[9.2,2.68],[9.49,2.43],[9.9,2.02],[10.19,1.98],[10.52,1.98],[10.93,1.18],[11.43,1.18],[11.97,1.18],[13.0,1.18],[14.98,1.9],[17.0,2.77],[20.02,2.68],[22.0,3.22],[24.03,3.72],[26.02,4.05],[27.05,3.08]];
const median307 = [[3,0.93],[3.5,1.27],[3.91,1.05],[4.32,1.27],[4.65,2.1],[5.02,2.6],[5.44,2.65],[5.77,2.38],[6.18,2.77],[6.68,3.35],[7.09,3.68],[7.42,3.48],[7.83,3.55],[8.25,3.93],[8.58,4.1],[8.87,3.6],[9.16,2.85],[9.49,2.35],[9.9,1.98],[10.31,1.82],[10.73,1.68],[11.06,1.27],[11.47,1.15],[11.97,1.38],[12.79,1.77],[14.03,2.1],[15.69,2.38],[17.75,2.6],[19.82,2.77],[20.85,2.85],[21.47,2.82],[22.1,3.27],[22.59,3.32],[23.0,3.27],[23.33,3.35],[23.62,3.68],[23.95,4.02],[24.28,4.1],[24.57,3.43],[24.86,2.85],[25.27,2.85],[25.81,2.85],[26.43,2.77],[28,2.77]];
const band307 = [[3,0.68,1.18],[3.5,1.03,1.52],[3.91,0.8,1.3],[4.32,1.0,1.55],[4.65,1.85,2.35],[5.02,2.35,2.85],[5.44,2.4,2.9],[5.77,2.12,2.62],[6.18,2.52,3.02],[6.68,3.1,3.58],[7.09,3.45,3.92],[7.42,3.25,3.72],[7.83,3.3,3.78],[8.25,3.7,4.17],[8.58,3.87,4.35],[8.87,3.37,3.85],[9.16,2.6,3.1],[9.49,2.1,2.6],[9.9,1.75,2.22],[10.31,1.58,2.07],[10.73,1.43,1.93],[11.06,1.02,1.52],[11.47,0.9,1.4],[11.97,1.13,1.62],[12.79,1.52,2.0],[14.03,1.85,2.33],[15.69,2.13,2.62],[17.75,2.35,2.85],[19.82,2.52,3.02],[20.85,2.6,3.12],[21.2,2.6,3.4],[21.47,2.58,3.2],[22.1,2.95,3.6],[22.59,3.0,4.25],[22.9,2.95,4.65],[23.33,3.0,4.2],[23.62,3.3,4.4],[23.95,3.65,5.0],[24.28,3.7,5.25],[24.57,3.0,4.3],[24.86,2.55,3.25],[25.27,2.55,3.2],[25.81,2.55,3.45],[26.0,2.55,3.5],[26.43,2.45,3.1],[28,2.45,3.05]];

const panelData = {
  '101':[data101,median101,band101,xTicks28], '102':[data102,median102,band102,xTicks28],
  '103':[data103,median103,band103,xTicks20], '104':[data104,median104,band104,xTicks20],
  '105':[data105,median105,band105,xTicks20], '106':[data106,median106,band106,xTicks20],
  '201':[data201,median201,band201,xTicks28], '202':[data202,median202,band202,xTicks28],
  '203':[data203,median203,band203,xTicks24], '204':[data204,median204,band204,xTicks24],
  '301':[data301,median301,band301,xTicks28], '302':[data302,median302,band302,xTicks28],
  '303':[data303,median303,band303,xTicks20], '304':[data304,median304,band304,xTicks20],
  '305':[data305,median305,band305,xTicks20], '306':[data306,median306,band306,xTicks28],
  '307':[data307,median307,band307,xTicks28]
};

const FONT = '"Liberation Sans", Arial, Helvetica, sans-serif';
const AX = '#262626';
const colLeft = [143, 478, 812.5, 1147.5];
const rowTop = [55.7, 258.7, 461.7, 664.7, 867.7];
const PW = 256, PH = 142;

const grids = [], xAxes = [], yAxes = [], series = [], titles = [];
volunteers.forEach((id, i) => {
  const row = Math.floor(i / 4), col = i % 4;
  const [pts, med, band, ticks] = panelData[id];
  grids.push({left: colLeft[col], top: rowTop[row], width: PW, height: PH, containLabel: false});
  xAxes.push({
    gridIndex: i, type: 'value', min: 3, max: xMaxDays[i],
    axisLine: {show: true, lineStyle: {color: AX, width: 1}},
    axisTick: {show: true, inside: true, length: 4, customValues: ticks, lineStyle: {color: AX}},
    axisLabel: {customValues: ticks, fontSize: 19, color: AX, fontFamily: FONT, margin: 15},
    splitLine: {show: false}
  });
  yAxes.push({
    gridIndex: i, type: 'value', min: 0, max: 7,
    axisLine: {show: true, lineStyle: {color: AX, width: 1}},
    axisTick: {show: true, inside: true, length: 4, customValues: yTickExponents, lineStyle: {color: AX}},
    axisLabel: {
      customValues: yTickExponents, margin: 18,
      formatter: v => '{b|10}{s|' + v + '}',
      rich: {
        b: {fontSize: 19, color: AX, fontFamily: FONT, lineHeight: 22},
        s: {fontSize: 13, color: AX, fontFamily: FONT, lineHeight: 9, verticalAlign: 'top'}
      }
    },
    splitLine: {show: false}
  });
  titles.push({
    text: 'Volunteer ' + id, left: colLeft[col] + 10, top: rowTop[row] - 2, padding: 0,
    textStyle: {fontSize: 22, fontWeight: 'normal', color: '#000', fontFamily: FONT}
  });
  series.push({
    type: 'custom', xAxisIndex: i, yAxisIndex: i, silent: true, z: 1,
    data: [[band[0][0], band[0][1]]],
    renderItem: (params, api) => {
      const up = band.map(b => api.coord([b[0], b[2]]));
      const lo = band.slice().reverse().map(b => api.coord([b[0], b[1]]));
      return {type: 'polygon', shape: {points: up.concat(lo)}, style: {fill: '#b3b3b3', stroke: null}};
    }
  });
  series.push({
    type: 'line', xAxisIndex: i, yAxisIndex: i, data: med, symbol: 'none', showSymbol: false,
    smooth: 0.25, silent: true, z: 2, lineStyle: {color: '#000', width: 1.6}
  });
  series.push({
    type: 'scatter', xAxisIndex: i, yAxisIndex: i, data: pts, symbol: 'circle', symbolSize: 10,
    silent: true, z: 3, itemStyle: {color: 'rgba(255,255,255,0)', borderColor: '#000', borderWidth: 1.1}
  });
});

const chart = echarts.init(document.getElementById('chart'), null, {renderer: 'canvas'});
chart.setOption({
  backgroundColor: '#fff',
  animation: false,
  title: titles,
  grid: grids,
  xAxis: xAxes,
  yAxis: yAxes,
  series: series,
  graphic: [
    {type: 'rect', shape: {x: 10, y: 9, width: 1431, height: 1200}, style: {fill: null, stroke: '#000', lineWidth: 2}, silent: true},
    {type: 'text', x: 58, y: 587, rotation: Math.PI / 2, scaleY: 1.2,
      style: {text: 'Total parasitaemia (/mL)', fontSize: 25, fontFamily: FONT, fill: '#222', textAlign: 'center', textVerticalAlign: 'middle'}},
    {type: 'text', x: 765, y: 1068, scaleX: 1.2,
      style: {text: 'Time post-inoculation (days)', fontSize: 27, fontFamily: FONT, fill: '#222', textAlign: 'center', textVerticalAlign: 'middle'}},
    {type: 'group', children: [
      {type: 'rect', shape: {x: 490, y: 870, width: 222, height: 130}, style: {fill: '#fff', stroke: '#555', lineWidth: 1}},
      {type: 'circle', shape: {cx: 541, cy: 896, r: 4.5}, style: {fill: null, stroke: '#000', lineWidth: 1.1}},
      {type: 'line', shape: {x1: 520, y1: 937, x2: 566, y2: 937}, style: {stroke: '#000', lineWidth: 1.6}},
      {type: 'rect', shape: {x: 520, y: 962, width: 46, height: 31}, style: {fill: '#b3b3b3'}},
      {type: 'text', x: 588, y: 896, scaleX: 1.15, style: {text: 'data', fontSize: 25, fontFamily: FONT, fill: '#000', textVerticalAlign: 'middle'}},
      {type: 'text', x: 588, y: 937, scaleX: 1.15, style: {text: 'median', fontSize: 25, fontFamily: FONT, fill: '#000', textVerticalAlign: 'middle'}},
      {type: 'text', x: 588, y: 978, scaleX: 1.15, style: {text: '95% PI', fontSize: 25, fontFamily: FONT, fill: '#000', textVerticalAlign: 'middle'}}
    ]}
  ]
});
</script></body></html>
